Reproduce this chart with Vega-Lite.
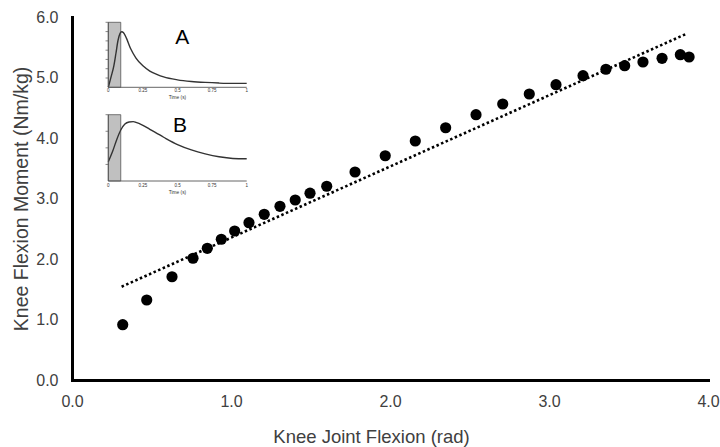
{
  "$schema": "https://vega.github.io/schema/vega-lite/v6.json",
  "width": 636,
  "height": 363,
  "autosize": {"type": "none"},
  "padding": {"left": 72, "top": 17, "right": 12, "bottom": 67},
  "config": {"view": {"stroke": null}, "font": "Liberation Sans"},
  "datasets": {
    "points": [
      {"x": 0.319, "y": 0.914}, {"x": 0.470, "y": 1.322}, {"x": 0.629, "y": 1.707},
      {"x": 0.761, "y": 2.012}, {"x": 0.851, "y": 2.177}, {"x": 0.939, "y": 2.326},
      {"x": 1.023, "y": 2.463}, {"x": 1.113, "y": 2.600}, {"x": 1.209, "y": 2.739},
      {"x": 1.308, "y": 2.871}, {"x": 1.404, "y": 2.975}, {"x": 1.497, "y": 3.088},
      {"x": 1.602, "y": 3.202}, {"x": 1.780, "y": 3.438}, {"x": 1.970, "y": 3.707},
      {"x": 2.159, "y": 3.950}, {"x": 2.350, "y": 4.170}, {"x": 2.541, "y": 4.385},
      {"x": 2.709, "y": 4.562}, {"x": 2.876, "y": 4.727}, {"x": 3.044, "y": 4.881},
      {"x": 3.214, "y": 5.030}, {"x": 3.358, "y": 5.136}, {"x": 3.476, "y": 5.195},
      {"x": 3.591, "y": 5.256}, {"x": 3.711, "y": 5.317}, {"x": 3.826, "y": 5.377},
      {"x": 3.881, "y": 5.339}
    ],
    "trend": [{"x": 0.312, "y": 1.542}, {"x": 3.866, "y": 5.724}],
    "curveA": [
      {"t": 0, "v": 0}, {"t": 0.02, "v": 0.16}, {"t": 0.04, "v": 0.33}, {"t": 0.055, "v": 0.52},
      {"t": 0.07, "v": 0.72}, {"t": 0.085, "v": 0.83}, {"t": 0.097, "v": 0.855}, {"t": 0.11, "v": 0.84},
      {"t": 0.13, "v": 0.76}, {"t": 0.16, "v": 0.6}, {"t": 0.2, "v": 0.45}, {"t": 0.25, "v": 0.33},
      {"t": 0.3, "v": 0.25}, {"t": 0.35, "v": 0.2}, {"t": 0.4, "v": 0.16}, {"t": 0.5, "v": 0.115},
      {"t": 0.6, "v": 0.09}, {"t": 0.7, "v": 0.075}, {"t": 0.8, "v": 0.065}, {"t": 0.9, "v": 0.06},
      {"t": 1.0, "v": 0.06}
    ],
    "curveB": [
      {"t": 0, "v": 0.29}, {"t": 0.03, "v": 0.44}, {"t": 0.06, "v": 0.62}, {"t": 0.09, "v": 0.77},
      {"t": 0.12, "v": 0.86}, {"t": 0.15, "v": 0.89}, {"t": 0.18, "v": 0.895}, {"t": 0.2, "v": 0.885},
      {"t": 0.25, "v": 0.84}, {"t": 0.3, "v": 0.78}, {"t": 0.4, "v": 0.66}, {"t": 0.5, "v": 0.55},
      {"t": 0.6, "v": 0.47}, {"t": 0.7, "v": 0.41}, {"t": 0.8, "v": 0.365}, {"t": 0.9, "v": 0.34},
      {"t": 1.0, "v": 0.335}
    ],
    "ticksT": [{"t": 0}, {"t": 0.25}, {"t": 0.5}, {"t": 0.75}, {"t": 1}],
    "ticksA": [{"v": 0.143}, {"v": 0.286}, {"v": 0.429}, {"v": 0.571}, {"v": 0.714}, {"v": 0.857}, {"v": 1}],
    "ticksB": [{"v": 0.25}, {"v": 0.5}, {"v": 0.75}, {"v": 1}],
    "one": [{}]
  },
  "layer": [
    {
      "layer": [
        {
          "data": {"name": "trend"},
          "mark": {"type": "line", "color": "black", "strokeDash": [2.5, 2.5], "strokeWidth": 2.6},
          "encoding": {
            "x": {"field": "x", "type": "quantitative", "scale": {"domain": [0, 4], "nice": false},
              "axis": {"values": [0, 1, 2, 3, 4], "format": ".1f", "title": "Knee Joint Flexion (rad)", "grid": false,
                "ticks": false, "tickSize": 0, "domainColor": "black", "domainWidth": 3, "domainCap": "square",
                "labelFontSize": 16, "labelColor": "#404040", "labelPadding": 13, "labelFlush": false,
                "titleFontSize": 18.5, "titleFontWeight": "normal", "titleColor": "#404040",
                "titleX": 299, "titleY": 56, "titleBaseline": "middle"}},
            "y": {"field": "y", "type": "quantitative", "scale": {"domain": [0, 6], "nice": false},
              "axis": {"values": [0, 1, 2, 3, 4, 5, 6], "format": ".1f", "title": "Knee Flexion Moment (Nm/kg)", "grid": false,
                "ticks": false, "tickSize": 0, "domainColor": "black", "domainWidth": 3, "domainCap": "square",
                "labelFontSize": 16, "labelColor": "#404040", "labelPadding": 14, "labelFlush": false,
                "titleFontSize": 19.5, "titleFontWeight": "normal", "titleColor": "#404040",
                "titleX": -51, "titleBaseline": "middle"}}
          }
        },
        {
          "data": {"name": "points"},
          "mark": {"type": "circle", "size": 125, "color": "black", "opacity": 1},
          "encoding": {
            "x": {"field": "x", "type": "quantitative"},
            "y": {"field": "y", "type": "quantitative"}
          }
        }
      ]
    },
    {
      "layer": [
        {
          "data": {"name": "one"},
          "mark": {"type": "rect", "fill": "#c0c0c0", "stroke": "#555555", "strokeWidth": 0.8},
          "encoding": {
            "x": {"datum": 0, "type": "quantitative", "scale": {"domain": [-0.2623, 4.3331], "nice": false, "zero": false}, "axis": null},
            "x2": {"datum": 0.09},
            "y": {"datum": 0, "type": "quantitative", "scale": {"domain": [-4.503, 1.0815], "nice": false, "zero": false}, "axis": null},
            "y2": {"datum": 1}
          }
        },
        {
          "data": {"name": "curveA"},
          "mark": {"type": "line", "color": "#333333", "strokeWidth": 1.4, "interpolate": "monotone"},
          "encoding": {
            "x": {"field": "t", "type": "quantitative", "scale": {"domain": [-0.2623, 4.3331], "nice": false, "zero": false}, "axis": null},
            "y": {"field": "v", "type": "quantitative", "scale": {"domain": [-4.503, 1.0815], "nice": false, "zero": false}, "axis": null}
          }
        },
        {
          "data": {"name": "one"},
          "mark": {"type": "rule", "color": "#555555", "strokeWidth": 0.9},
          "encoding": {
            "x": {"datum": 0, "type": "quantitative", "scale": {"domain": [-0.2623, 4.3331], "nice": false, "zero": false}, "axis": null},
            "x2": {"datum": 1},
            "y": {"datum": 0, "type": "quantitative", "scale": {"domain": [-4.503, 1.0815], "nice": false, "zero": false}, "axis": null}
          }
        },
        {
          "data": {"name": "one"},
          "mark": {"type": "rule", "color": "#555555", "strokeWidth": 0.9},
          "encoding": {
            "x": {"datum": 0, "type": "quantitative", "scale": {"domain": [-0.2623, 4.3331], "nice": false, "zero": false}, "axis": null},
            "y": {"datum": 0, "type": "quantitative", "scale": {"domain": [-4.503, 1.0815], "nice": false, "zero": false}, "axis": null},
            "y2": {"datum": 1}
          }
        },
        {
          "data": {"name": "ticksA"},
          "mark": {"type": "rule", "color": "#555555", "strokeWidth": 0.7},
          "encoding": {
            "x": {"datum": -0.02, "type": "quantitative", "scale": {"domain": [-0.2623, 4.3331], "nice": false, "zero": false}, "axis": null},
            "x2": {"datum": 0},
            "y": {"field": "v", "type": "quantitative", "scale": {"domain": [-4.503, 1.0815], "nice": false, "zero": false}, "axis": null}
          }
        },
        {
          "data": {"name": "ticksT"},
          "mark": {"type": "text", "fontSize": 4.5, "color": "#333333", "baseline": "middle", "align": "center"},
          "encoding": {
            "x": {"field": "t", "type": "quantitative", "scale": {"domain": [-0.2623, 4.3331], "nice": false, "zero": false}, "axis": null},
            "y": {"datum": -0.06, "type": "quantitative", "scale": {"domain": [-4.503, 1.0815], "nice": false, "zero": false}, "axis": null},
            "text": {"field": "t", "type": "quantitative"}
          }
        },
        {
          "data": {"name": "one"},
          "mark": {"type": "text", "fontSize": 4.8, "color": "#333333", "baseline": "middle", "align": "center", "text": "Time (s)"},
          "encoding": {
            "x": {"datum": 0.5, "type": "quantitative", "scale": {"domain": [-0.2623, 4.3331], "nice": false, "zero": false}, "axis": null},
            "y": {"datum": -0.17, "type": "quantitative", "scale": {"domain": [-4.503, 1.0815], "nice": false, "zero": false}, "axis": null}
          }
        },
        {
          "data": {"name": "one"},
          "mark": {"type": "text", "fontSize": 21, "color": "black", "baseline": "middle", "align": "center", "text": "A"},
          "encoding": {
            "x": {"datum": 0.535, "type": "quantitative", "scale": {"domain": [-0.2623, 4.3331], "nice": false, "zero": false}, "axis": null},
            "y": {"datum": 0.754, "type": "quantitative", "scale": {"domain": [-4.503, 1.0815], "nice": false, "zero": false}, "axis": null}
          }
        }
      ]
    },
    {
      "layer": [
        {
          "data": {"name": "one"},
          "mark": {"type": "rect", "fill": "#c0c0c0", "stroke": "#555555", "strokeWidth": 0.8},
          "encoding": {
            "x": {"datum": 0, "type": "quantitative", "scale": {"domain": [-0.2623, 4.3331], "nice": false, "zero": false}, "axis": null},
            "x2": {"datum": 0.09},
            "y": {"datum": 0, "type": "quantitative", "scale": {"domain": [-3.0015, 2.4736], "nice": false, "zero": false}, "axis": null},
            "y2": {"datum": 1}
          }
        },
        {
          "data": {"name": "curveB"},
          "mark": {"type": "line", "color": "#333333", "strokeWidth": 1.4, "interpolate": "monotone"},
          "encoding": {
            "x": {"field": "t", "type": "quantitative", "scale": {"domain": [-0.2623, 4.3331], "nice": false, "zero": false}, "axis": null},
            "y": {"field": "v", "type": "quantitative", "scale": {"domain": [-3.0015, 2.4736], "nice": false, "zero": false}, "axis": null}
          }
        },
        {
          "data": {"name": "one"},
          "mark": {"type": "rule", "color": "#555555", "strokeWidth": 0.9},
          "encoding": {
            "x": {"datum": 0, "type": "quantitative", "scale": {"domain": [-0.2623, 4.3331], "nice": false, "zero": false}, "axis": null},
            "x2": {"datum": 1},
            "y": {"datum": 0, "type": "quantitative", "scale": {"domain": [-3.0015, 2.4736], "nice": false, "zero": false}, "axis": null}
          }
        },
        {
          "data": {"name": "one"},
          "mark": {"type": "rule", "color": "#555555", "strokeWidth": 0.9},
          "encoding": {
            "x": {"datum": 0, "type": "quantitative", "scale": {"domain": [-0.2623, 4.3331], "nice": false, "zero": false}, "axis": null},
            "y": {"datum": 0, "type": "quantitative", "scale": {"domain": [-3.0015, 2.4736], "nice": false, "zero": false}, "axis": null},
            "y2": {"datum": 1}
          }
        },
        {
          "data": {"name": "ticksB"},
          "mark": {"type": "rule", "color": "#555555", "strokeWidth": 0.7},
          "encoding": {
            "x": {"datum": -0.02, "type": "quantitative", "scale": {"domain": [-0.2623, 4.3331], "nice": false, "zero": false}, "axis": null},
            "x2": {"datum": 0},
            "y": {"field": "v", "type": "quantitative", "scale": {"domain": [-3.0015, 2.4736], "nice": false, "zero": false}, "axis": null}
          }
        },
        {
          "data": {"name": "ticksT"},
          "mark": {"type": "text", "fontSize": 4.5, "color": "#333333", "baseline": "middle", "align": "center"},
          "encoding": {
            "x": {"field": "t", "type": "quantitative", "scale": {"domain": [-0.2623, 4.3331], "nice": false, "zero": false}, "axis": null},
            "y": {"datum": -0.07, "type": "quantitative", "scale": {"domain": [-3.0015, 2.4736], "nice": false, "zero": false}, "axis": null},
            "text": {"field": "t", "type": "quantitative"}
          }
        },
        {
          "data": {"name": "one"},
          "mark": {"type": "text", "fontSize": 4.8, "color": "#333333", "baseline": "middle", "align": "center", "text": "Time (s)"},
          "encoding": {
            "x": {"datum": 0.5, "type": "quantitative", "scale": {"domain": [-0.2623, 4.3331], "nice": false, "zero": false}, "axis": null},
            "y": {"datum": -0.176, "type": "quantitative", "scale": {"domain": [-3.0015, 2.4736], "nice": false, "zero": false}, "axis": null}
          }
        },
        {
          "data": {"name": "one"},
          "mark": {"type": "text", "fontSize": 21, "color": "black", "baseline": "middle", "align": "center", "text": "B"},
          "encoding": {
            "x": {"datum": 0.518, "type": "quantitative", "scale": {"domain": [-0.2623, 4.3331], "nice": false, "zero": false}, "axis": null},
            "y": {"datum": 0.833, "type": "quantitative", "scale": {"domain": [-3.0015, 2.4736], "nice": false, "zero": false}, "axis": null}
          }
        }
      ]
    }
  ],
  "resolve": {"scale": {"x": "independent", "y": "independent"}}
}
